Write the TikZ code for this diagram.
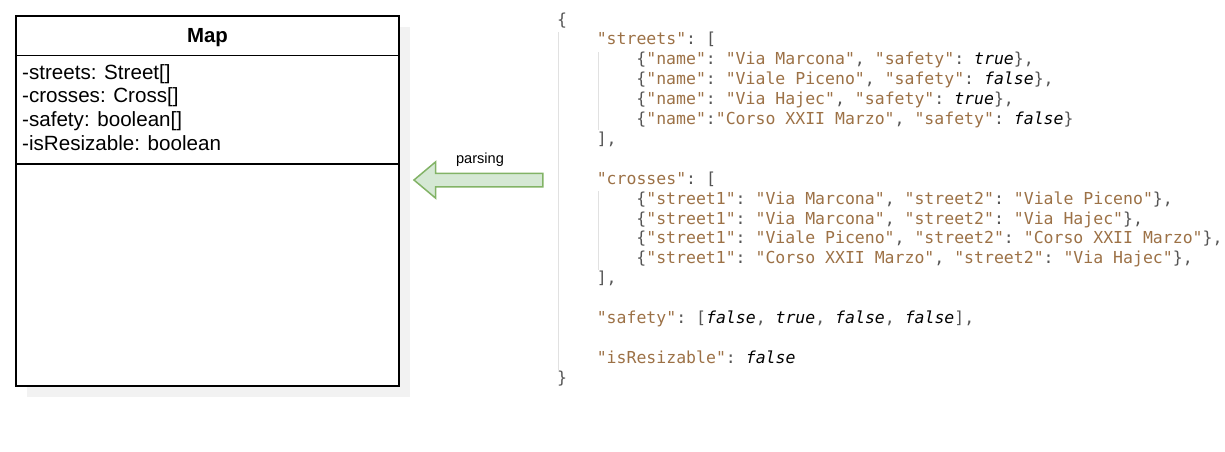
\documentclass[tikz,border=0pt]{standalone}
\usepackage{fontspec}
\setmainfont{Liberation Sans}
\setmonofont{DejaVu Sans Mono}
\usetikzlibrary{shapes.arrows,positioning}

\definecolor{jsonstr}{RGB}{156,113,70}
\definecolor{jsonpunct}{RGB}{85,85,85}
\definecolor{guide}{RGB}{225,225,225}
\definecolor{umlshadow}{RGB}{242,242,242}
\definecolor{parsefill}{RGB}{213,232,212}
\definecolor{parsedraw}{RGB}{130,179,102}

\newcommand{\js}[1]{\textcolor{jsonstr}{"#1"}}
\newcommand{\jb}[1]{\textcolor{black}{\itshape #1}}

\begin{document}
\begin{tikzpicture}[x=1pt, y=-1pt,
  codeline/.style={anchor=base west, inner sep=0pt, text=jsonpunct,
    font=\ttfamily\fontsize{16.5}{19.9}\selectfont},
  field/.style={anchor=base west, inner sep=0pt,
    font=\fontsize{20.6}{23.7}\selectfont}]
  \useasboundingbox (0,0) rectangle (1225,451);

  % class box
  \fill[umlshadow] (27,27) rectangle (410,397);
  \node[draw, line width=1.5pt, fill=white, minimum width=383pt, minimum height=370pt,
    inner sep=0pt] (map) at (207.5,201) {};
  \draw[line width=1.2pt] (16,55.5) -- (399,55.5);
  \draw[line width=1.2pt] (16,164) -- (399,164);
  \node[anchor=base, inner sep=0pt, font=\bfseries\fontsize{20.4}{24}\selectfont]
    (mapname) at (207.5,42) {Map};
  \node[field] (f1) at (22,79) {-streets: Street[]};
  \node[field] (f2) at (22,102.7) {-crosses: Cross[]};
  \node[field] (f3) at (22,126.4) {-safety: boolean[]};
  \node[field] (f4) at (22,150) {-isResizable: boolean};

  % parsing arrow
  \node[single arrow, shape border rotate=180, draw=parsedraw, fill=parsefill,
    line width=1.5pt, minimum height=129pt, inner sep=6pt,
    single arrow head extend=11.5pt, single arrow tip angle=80] (parse) at (482.5,180) {};
  \node[inner sep=0pt, font=\fontsize{14.6}{16}\selectfont] (parselbl) at (480,160) {parsing};

  % json
  \draw[guide, line width=1pt] (558,32) -- (558,370);
  \draw[guide, line width=1pt] (598,52) -- (598,130);
  \draw[guide, line width=1pt] (598,191) -- (598,270);

  \node[codeline] (l0) at (557,25) {\{};
  \node[codeline] (l1) at (596.6,44.9) {\js{streets}: [};
  \node[codeline] (l2) at (636.2,64.8) {\{\js{name}: \js{Via Marcona}, \js{safety}: \jb{true}\},};
  \node[codeline] (l3) at (636.2,84.7) {\{\js{name}: \js{Viale Piceno}, \js{safety}: \jb{false}\},};
  \node[codeline] (l4) at (636.2,104.6) {\{\js{name}: \js{Via Hajec}, \js{safety}: \jb{true}\},};
  \node[codeline] (l5) at (636.2,124.5) {\{\js{name}:\js{Corso XXII Marzo}, \js{safety}: \jb{false}\}};
  \node[codeline] (l6) at (596.6,144.4) {],};
  \node[codeline] (l8) at (596.6,184.2) {\js{crosses}: [};
  \node[codeline] (l9) at (636.2,204.1) {\{\js{street1}: \js{Via Marcona}, \js{street2}: \js{Viale Piceno}\},};
  \node[codeline] (l10) at (636.2,224) {\{\js{street1}: \js{Via Marcona}, \js{street2}: \js{Via Hajec}\},};
  \node[codeline] (l11) at (636.2,243.9) {\{\js{street1}: \js{Viale Piceno}, \js{street2}: \js{Corso XXII Marzo}\},};
  \node[codeline] (l12) at (636.2,263.8) {\{\js{street1}: \js{Corso XXII Marzo}, \js{street2}: \js{Via Hajec}\},};
  \node[codeline] (l13) at (596.6,283.7) {],};
  \node[codeline] (l15) at (596.6,323.5) {\js{safety}: [\jb{false}, \jb{true}, \jb{false}, \jb{false}],};
  \node[codeline] (l17) at (596.6,363.3) {\js{isResizable}: \jb{false}};
  \node[codeline] (l18) at (557,383.2) {\}};
\end{tikzpicture}
\end{document}
